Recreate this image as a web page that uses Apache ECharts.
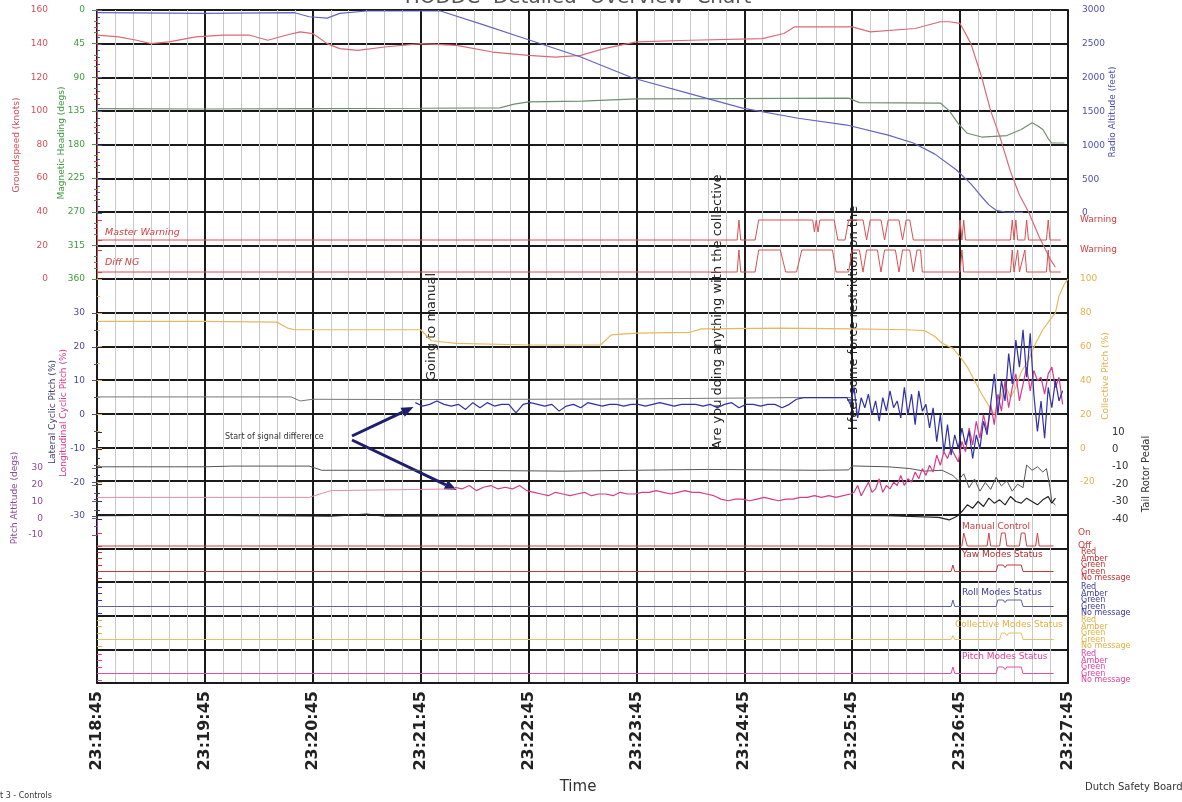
<!DOCTYPE html>
<html><head><meta charset="utf-8">
<script src="https://cdn.jsdelivr.net/npm/echarts@6/dist/echarts.min.js"></script>
<style>html,body{margin:0;padding:0;background:#fff}#c{width:1182px;height:802px}</style>
</head><body><div id="c"></div>
<script>
// ---------- DATA ----------
const timeLabels = ['23:18:45','23:19:45','23:20:45','23:21:45','23:22:45','23:23:45','23:24:45','23:25:45','23:26:45','23:27:45'];
const statusLevels = ['No message','Green','Green','Amber','Red'];
const manualLevels = ['Off','On'];

// seconds after 23:18:45 -> value
const groundspeed = [[0,145],[12,144],[22,142],[30,140],[40,141],[55,144],[70,145],[85,145],[95,142],[105,145],[113,147],[120,146],[128,140],[135,137],[145,136],[160,138],[180,140],[200,139],[220,135],[240,133],[255,132],[269,133],[282,137],[300,141],[330,142],[370,143],[382,146],[388,150],[420,150],[430,147],[455,149],[469,153],[474,153],[480,152],[486,140],[492,120],[497,100],[502,85],[508,64],[513,50],[518,40],[524,25],[530,12],[533,7]];
const heading = [[0,132],[60,132.5],[120,132],[180,131.5],[224,131],[232,126],[240,123],[270,122],[300,119],[350,118.5],[418,118],[424,124],[469,124.5],[474,135],[479,152],[484,165],[492,170],[506,168],[514,160],[520,151],[523,155],[526,160],[529,172],[531,178],[538,178]];
const radioAlt = [[0,2960],[60,2950],[110,2960],[118,2900],[128,2880],[135,2950],[150,2985],[191,2985],[215,2780],[240,2560],[269,2305],[298,1995],[330,1760],[359,1550],[390,1400],[417,1300],[440,1150],[454,1035],[466,870],[478,635],[486,430],[491,270],[496,120],[500,40],[505,15],[515,10]];
const masterWarning = [[0,0],[356,0],[357,1],[358,0],[366,0],[368,1],[398,1],[399,0.4],[400,1],[401,0.4],[402,1],[410,1],[412,0],[416,0],[418,1],[426,1],[428,0],[430,1],[436,1],[438,0],[440,1],[446,1],[448,0],[450,1],[452,1],[454,0],[479,0],[480,1],[481,0],[482,1],[483,0],[508,0],[509,1],[510,0],[511,1],[512,0],[516,0],[517,1],[518,0],[528,0],[529,1],[530,0],[536,0]];
const diffNG = [[0,0],[356,0],[357,1],[358,0],[366,0],[368,1],[380,1],[383,0],[389,0],[392,1],[409,1],[411,0],[418,0],[420,1],[424,1],[426,0],[428,1],[434,1],[436,0],[438,1],[444,1],[446,0],[448,1],[452,1],[454,0],[456,1],[458,1],[459,0],[480,0],[481,1],[482,0],[508,0],[509,1],[510,0],[512,1],[513,0],[516,1],[517,0],[528,0],[529,1],[530,0],[536,0]];
const collective = [[0,75],[60,75],[100,74.5],[106,71],[110,70],[180,70],[186,63.5],[200,62],[240,61],[280,61],[286,67],[300,68],[330,68.5],[336,70.5],[380,71],[420,70.5],[450,70],[460,69.5],[466,66],[470,62],[476,59],[480,54],[484,48],[488,40],[492,32],[496,25],[499,20],[502,28],[505,38],[508,30],[511,36],[514,45],[518,52],[522,62],[526,70],[530,76],[533,80],[535,90],[538,97],[540,100]];
const lateralRef = [[0,5.2],[108,5.2],[113,4],[120,4.5],[177,4.4],[300,4.6],[389,5],[420,5]];
const lateralCalm = [3.5,2.5,3,4,3,2.5,3,1.5,3.5,2,3.5,2.5,3,3,0.5,3,3.5,3,2.5,3,1,2.5,3,2,3.5,3,2.5,3,3,2.5,3,3,2.5,3,3.5,3,2.5,3,3,3,2.5,3,2,3,3.5,2,3,3,2.5,3,3,2,3,4.5,5,5,5,5,5,5,5];
const lateralActive = [3,8,-1,5,2,6,0,4,-2,5,1,7,2,4,-1,8,0,6,-3,7,1,3,-4,2,-8,0,-11,-3,-12,-6,-10,-4,-9,-5,-13,-6,-10,-2,-6,3,12,0,10,4,18,9,22,14,25,11,24,6,-5,4,-7,8,2,10,4,7];
const longitudinalRef = [[0,-24.5],[118,-24.5],[124,-23.5],[130,-22.5],[199,-22]];
const longitudinalCalm = [-21.5,-22,-21,-22.5,-21.5,-21,-22,-21.5,-22,-21,-22.5,-23,-23.5,-24,-23,-23.5,-24,-23.5,-23,-24,-23.5,-23.5,-24,-23,-23.5,-23.5,-23,-23,-22.5,-23,-23.5,-23,-22.5,-23,-23,-23.5,-24,-25,-25.5,-25,-25,-25.5,-25,-24.5,-25,-25.5,-25,-25,-24.5,-24.5,-24,-24.5,-24,-24.5,-24,-23.5];
const longitudinalActive = [-23,-21,-24,-22,-20,-23,-22,-19,-23,-21,-22,-20,-21,-18,-21,-19,-20,-17,-19,-16,-18,-15,-17,-12,-15,-11,-13,-10,-12,-14,-8,-11,-4,-9,-2,-7,0,-5,3,-3,6,1,10,2,8,12,4,9,14,7,13,10,11,6,12,14,8,11,3];
const pitchAttitude = [[0,1.5],[50,1.8],[90,1.5],[130,1.2],[150,2.5],[160,1.2],[250,1.5],[350,1.8],[440,1.5],[468,0.5],[474,-1],[478,1],[481,4],[484,8],[487,6],[490,10],[493,7],[496,12],[499,9],[502,11],[505,8],[508,13],[511,10],[514,9],[517,12],[520,10],[523,8],[526,11],[529,13],[531,9],[533,12]];
const tailPedal = [[0,-10],[60,-10],[75,-9.6],[118,-9.6],[125,-12],[200,-12],[260,-12.5],[300,-12],[340,-11.5],[400,-12],[418,-11.8],[420,-9.5],[440,-10],[452,-11],[460,-12.5],[470,-12],[476,-15],[479,-18],[482,-14],[485,-22],[488,-17],[491,-24],[494,-19],[497,-23],[500,-16],[503,-21],[506,-18],[509,-24],[512,-20],[515,-22],[517,-9],[520,-12],[523,-10],[526,-13],[528,-11],[530,-22],[531,-30],[533,-32]];
const manualControl = [[0,0],[481,0],[482,1],[484,0],[495,0],[496,1],[497,0],[502,0],[503,1],[505,1],[506,0],[513,0],[514,1],[516,1],[517,0],[522,0],[523,1],[524,0],[532,0]];
const yawStatus = [[0,1],[475,1],[476,2],[477,1],[500,1],[501,2],[504,2],[505,1.6],[506,2],[514,2],[515,1],[532,1]];
const rollStatus = [[0,1],[475,1],[476,2],[477,1],[500,1],[501,2],[504,2],[505,1.6],[506,2],[514,2],[515,1],[532,1]];
const collectiveStatus = [[0,1],[475,1],[476,1.6],[477,1],[502,1],[503,2],[505,2],[506,1.6],[507,2],[514,2],[515,1],[532,1]];
const pitchStatus = [[0,1],[475,1],[476,2],[477,1],[500,1],[501,2],[504,2],[505,1.6],[506,2],[514,2],[515,1],[532,1]];

// ---------- BUILD ----------
function seq(start, step, vals){ return vals.map((v,i)=>[start+step*i, v]); }
const lateral = seq(177,4,lateralCalm).concat(seq(419,2,lateralActive));
const longitudinal = seq(199,4,longitudinalCalm).concat(seq(421,2,longitudinalActive));

const FF = 'DejaVu Sans';
const C = {gs:'#d4505a', hdg:'#3f9a3f', ra:'#5050b0', warn:'#d04040', coll:'#e2b050', lat:'#4a4a9a', lon:'#d43c8c', pitch:'#8a4a9a', tail:'#333'};
const statusColors = ['#c03030','#3a3a9a','#e0b040','#e040a0'];

const gridDefs = [[10,673],[10,269],[10,203],[220,20],[250,22],[279,203],[313,203],[468,67],[432,87],[533,13],[552,26],[587,26],[620,26],[654,26]];
const grids = gridDefs.map(g=>({left:97,width:971,top:g[0],height:g[1],show:false}));

const xAxes = gridDefs.map((g,i)=> i===0 ? {
  gridIndex:0,type:'value',min:0,max:540,interval:60,
  axisLine:{show:true,lineStyle:{color:'#1a1a1a',width:2}},
  axisTick:{show:false},
  axisLabel:{rotate:90,margin:8,fontFamily:FF,fontWeight:'bold',fontSize:16,color:'#222',formatter:v=>timeLabels[Math.round(v/60)]},
  splitLine:{show:true,lineStyle:{color:'#1a1a1a',width:2}},
  minorTick:{show:false,splitNumber:6},
  minorSplitLine:{show:true,lineStyle:{color:'#c9c9c9',width:1}}
} : {gridIndex:i,type:'value',min:0,max:540,show:false});

function yax(o){
  const col=o.color||'#333';
  return Object.assign({
    type:'value',
    axisLine:{show:!!o.line,lineStyle:{color:col,width:1}},
    axisTick:{show:true,length:5,lineStyle:{color:col}},
    minorTick:{show:!!o.minor,splitNumber:o.minor||2,length:3,lineStyle:{color:col}},
    axisLabel:{show:!o.noLabel,showMinLabel:true,showMaxLabel:true,fontFamily:FF,fontSize:o.fs||9,color:col,margin:o.margin||4,formatter:o.fmt||(v=>String(v))},
    splitLine:{show:false}
  }, o.extra);
}
const yAxes = [
  {gridIndex:0,type:'value',min:0,max:20,interval:1,position:'left',axisLine:{show:true,lineStyle:{color:'#1a1a1a',width:2}},axisTick:{show:false},axisLabel:{show:false},splitLine:{show:true,lineStyle:{color:'#1a1a1a',width:2}}},
  {gridIndex:0,type:'value',min:0,max:20,interval:1,position:'right',axisLine:{show:true,lineStyle:{color:'#1a1a1a',width:2}},axisTick:{show:false},axisLabel:{show:false},splitLine:{show:false}},
  yax({color:C.gs,line:true,minor:2,extra:{gridIndex:1,position:'left',offset:45,min:0,max:160,interval:20}}),
  yax({color:C.hdg,minor:3,margin:12,extra:{gridIndex:1,position:'left',offset:0,min:0,max:360,interval:45,inverse:true}}),
  yax({color:C.ra,minor:5,margin:14,extra:{gridIndex:2,position:'right',min:0,max:3000,interval:500}}),
  yax({color:C.warn,margin:12,fmt:v=>v===1?'Warning':'',extra:{gridIndex:3,position:'right',min:0,max:1,interval:1}}),
  yax({color:C.warn,margin:12,fmt:v=>v===1?'Warning':'',extra:{gridIndex:4,position:'right',min:0,max:1,interval:1}}),
  yax({color:C.coll,minor:2,margin:12,extra:{gridIndex:5,position:'right',min:-20,max:100,interval:20}}),
  yax({color:C.lat,minor:2,margin:12,extra:{gridIndex:6,position:'left',min:-30,max:30,interval:10}}),
  yax({color:C.pitch,line:true,minor:2,extra:{gridIndex:7,position:'left',offset:50,min:-10,max:30,interval:10}}),
  yax({color:C.tail,line:true,minor:2,fs:10,extra:{gridIndex:8,position:'right',offset:40,min:-40,max:10,interval:10}}),
  yax({color:C.warn,margin:10,fmt:v=>manualLevels[v],extra:{gridIndex:9,position:'right',min:0,max:1,interval:1}}),
  yax({color:statusColors[0],noLabel:true,extra:{gridIndex:10,position:'right',min:0,max:4,interval:1}}),
  yax({color:statusColors[1],noLabel:true,extra:{gridIndex:11,position:'right',min:0,max:4,interval:1}}),
  yax({color:statusColors[2],noLabel:true,extra:{gridIndex:12,position:'right',min:0,max:4,interval:1}}),
  yax({color:statusColors[3],noLabel:true,extra:{gridIndex:13,position:'right',min:0,max:4,interval:1}})
];

function line(name, gi, yi, data, color, width){
  return {type:'line',name,xAxisIndex:gi,yAxisIndex:yi,data,showSymbol:false,symbol:'none',clip:false,silent:true,
    lineStyle:{color,width:width||1}};
}
const series = [
  line('Magnetic heading',1,3,heading,'#6f8f6f',1.2),
  line('Groundspeed',1,2,groundspeed,'#d86a78',1.2),
  line('Radio altitude',2,4,radioAlt,'#6464c0',1.2),
  line('Master warning',3,5,masterWarning,'#d85050',1),
  line('Diff NG',4,6,diffNG,'#d85050',1),
  line('Collective pitch',5,7,collective,'#e6b860',1.2),
  line('Tail rotor pedal',8,10,tailPedal,'#555',1),
  line('Pitch attitude',7,9,pitchAttitude,'#222',1.2),
  line('Lateral cyclic (ref)',6,8,lateralRef,'#777',1),
  line('Longitudinal cyclic (ref)',6,8,longitudinalRef,'#e48aa8',1),
  line('Longitudinal cyclic',6,8,longitudinal,C.lon,1.2),
  line('Lateral cyclic',6,8,lateral,'#3030a8',1.2),
  line('Manual control',9,11,manualControl,'#d04040',1),
  line('Yaw modes',10,12,yawStatus,'#c03a3a',1),
  line('Roll modes',11,13,rollStatus,'#6060a0',1),
  line('Collective modes',12,14,collectiveStatus,'#e8c060',1),
  line('Pitch modes',13,15,pitchStatus,'#e050a0',1)
];

function vtext(text,x,y,color,size,extra){
  return Object.assign({type:'text',x,y,rotation:Math.PI/2,silent:true,
    style:{text,fill:color,font:(size||9)+'px "'+FF+'"',textAlign:'center',textVerticalAlign:'middle'}},extra||{});
}
function htext(text,x,y,color,size,style){
  return {type:'text',x,y,silent:true,style:{text,fill:color,font:(style||'')+' '+(size||9)+'px "'+FF+'"',textAlign:'left',textVerticalAlign:'middle'}};
}

const chart = echarts.init(document.getElementById('c'));
chart.setOption({animation:false,backgroundColor:'#fff',grid:grids,xAxis:xAxes,yAxis:yAxes,series});

// status level labels (placed at each level through the grids' scales)
const statusLabels = [];
[10,11,12,13].forEach((gi,k)=>{
  statusLevels.forEach((lab,lv)=>{
    const p = chart.convertToPixel({gridIndex:gi},[540,lv]);
    statusLabels.push(htext(lab,p[0]+13,p[1],statusColors[k],8));
  });
});

// annotation arrows anchored to data
const tipA = chart.convertToPixel({gridIndex:6},[176,2.2]);
const tipB = chart.convertToPixel({gridIndex:6},[200,-22.3]);
function arrow(x0,y0,x1,y1){
  const a=Math.atan2(y1-y0,x1-x0), L=12, w=5;
  const bx=x1-L*Math.cos(a), by=y1-L*Math.sin(a);
  return [
    {type:'line',silent:true,shape:{x1:x0,y1:y0,x2:bx,y2:by},style:{stroke:'#1e1e6e',lineWidth:3}},
    {type:'polygon',silent:true,shape:{points:[[x1,y1],[bx+w*Math.sin(a),by-w*Math.cos(a)],[bx-w*Math.sin(a),by+w*Math.cos(a)]]},style:{fill:'#1e1e6e'}}
  ];
}
const graphics = [
  {type:'text',x:578,y:-2,silent:true,style:{text:'HODDC  Detailed  Overview  Chart',fill:'#555',font:'20px "'+FF+'"',textAlign:'center',textVerticalAlign:'middle'}},
  vtext('Groundspeed (knots)',17,145,C.gs,9),
  vtext('Magnetic Heading (degs)',62,143,C.hdg,9),
  vtext('Radio Altitude (feet)',1113,112,C.ra,9),
  vtext('Lateral Cyclic Pitch (%)',53,412,'#404070',9),
  vtext('Longitudinal Cyclic Pitch (%)',64,413,C.lon,9),
  vtext('Pitch Attitude (degs)',15,498,C.pitch,9),
  vtext('Collective Pitch (%)',1106,376,C.coll,9),
  vtext('Tail Rotor Pedal',1146,474,'#333',10),
  vtext('Going to manual',432,327,'#222',13),
  vtext('Are you doing anything with the collective',718,312,'#222',13),
  vtext('I feel some force restriction on the',854,318,'#222',13),
  htext('Master Warning',105,233,C.warn,9.5,'italic'),
  htext('Diff NG',105,263,C.warn,9.5,'italic'),
  htext('Manual Control',962,527,C.warn,9),
  htext('Yaw Modes Status',962,555,'#b03030',9),
  htext('Roll Modes Status',962,593,'#3a3a9a',9),
  htext('Collective Modes Status',955,625,'#e0b040',9),
  htext('Pitch Modes Status',962,657,'#e040a0',9),
  htext('Start of signal difference',225,437,'#333',8),
  {type:'text',x:578,y:787,silent:true,style:{text:'Time',fill:'#333',font:'15px "'+FF+'"',textAlign:'center',textVerticalAlign:'middle'}},
  htext('Dutch Safety Board',1085,787,'#333',10),
  htext('t 3 - Controls',0,796,'#333',8)
].concat(statusLabels, arrow(352,436,tipA[0],tipA[1]), arrow(352,440,tipB[0],tipB[1]));
chart.setOption({graphic:graphics});
</script></body></html>
